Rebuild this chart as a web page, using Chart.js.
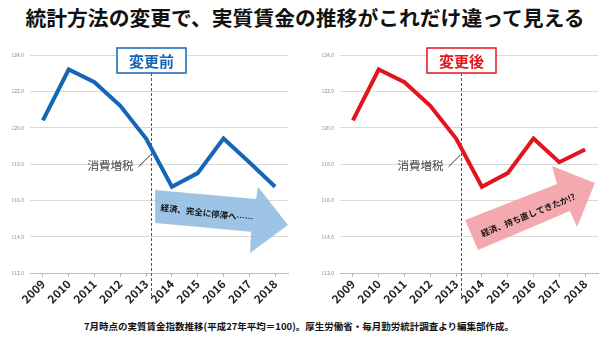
<!DOCTYPE html>
<html>
<head>
<meta charset="utf-8">
<script src="https://cdn.jsdelivr.net/npm/chart.js@4"></script>
<style>
body { margin: 0; width: 610px; height: 340px; background: #fff; position: relative; overflow: hidden; font-family: "Noto Sans CJK JP", sans-serif; }
#title { position: absolute; left: 0; top: 3px; width: 610px; text-align: center; font-size: 20.8px; font-weight: 700; color: #111; line-height: 28px; white-space: nowrap; }
.panel { position: absolute; top: 40px; width: 300px; height: 265px; }
#foot { position: absolute; left: 0; top: 318px; width: 598px; text-align: center; font-size: 9.5px; font-weight: 700; color: #111; line-height: 16px; white-space: nowrap; }
</style>
</head>
<body>
<div id="title">統計方法の変更で、実質賃金の推移がこれだけ違って見える</div>
<div class="panel" style="left:0"><canvas id="before"></canvas></div>
<div class="panel" style="left:310px"><canvas id="after"></canvas></div>
<div id="foot">7月時点の実質賃金指数推移(平成27年平均＝100)。厚生労働省・毎月勤労統計調査より編集部作成。</div>
<script>
// data
const years = ['2009', '2010', '2011', '2012', '2013', '2014', '2015', '2016', '2017', '2018'];
const beforeValues = [120.4, 123.2, 122.5, 121.2, 119.4, 116.75, 117.5, 119.4, 118.1, 116.75];
const afterValues = [120.4, 123.2, 122.5, 121.2, 119.4, 116.75, 117.5, 119.4, 118.1, 118.8];
const yMin = 112, yMax = 124, yStep = 2;
const taxIndex = 4.2; // 消費増税 marker between 2013 and 2014

const font = '"Noto Sans CJK JP", sans-serif';

// annotations: arrow outline + text, in (index, value) coords
const beforeNote = {
    color: '#1565b8',
    label: '変更前',
    arrowFill: 'rgba(140,186,225,0.85)',
    arrow: [[4.35, 116.57], [8.26, 116.07], [8.34, 116.73], [9.5, 114.64], [8.03, 113.1], [8.07, 114.27], [4.35, 114.75]],
    text: '経済、完全に停滞へ……',
    textAt: [6.36, 115.3],
    angle: 7
};
const afterNote = {
    color: '#e2141c',
    label: '変更後',
    arrowFill: 'rgba(242,160,165,0.9)',
    arrow: [[4.35, 114.92], [7.91, 116.9], [7.72, 117.89], [9.38, 116.95], [8.69, 114.53], [8.41, 115.41], [4.85, 113.27]],
    text: '経済、持ち直してきたか!?',
    textAt: [6.79, 115.19],
    angle: -22
};

const notes = {
    id: 'notes',
    beforeDatasetsDraw(chart, args, opts) {
        const { ctx, scales: { x, y } } = chart;
        ctx.save();
        // arrow
        ctx.fillStyle = opts.arrowFill;
        ctx.beginPath();
        opts.arrow.forEach(([i, v], n) => {
            const px = x.getPixelForValue(i), py = y.getPixelForValue(v);
            n ? ctx.lineTo(px, py) : ctx.moveTo(px, py);
        });
        ctx.closePath();
        ctx.fill();
        // arrow text
        ctx.translate(x.getPixelForValue(opts.textAt[0]), y.getPixelForValue(opts.textAt[1]));
        ctx.rotate(opts.angle * Math.PI / 180);
        ctx.fillStyle = '#111';
        ctx.font = 'bold 8.5px ' + font;
        ctx.textAlign = 'center';
        ctx.textBaseline = 'middle';
        ctx.fillText(opts.text, 0, 0);
        ctx.restore();
    },
    afterDatasetsDraw(chart, args, opts) {
        const { ctx, chartArea, scales: { x, y } } = chart;
        const lx = Math.round(x.getPixelForValue(taxIndex)) + 0.5;
        ctx.save();
        // dashed marker
        ctx.strokeStyle = '#555';
        ctx.lineWidth = 1;
        ctx.setLineDash([3, 2]);
        ctx.beginPath();
        ctx.moveTo(lx, chartArea.top + 18);
        ctx.lineTo(lx, chartArea.bottom + 25);
        ctx.stroke();
        ctx.setLineDash([]);
        // 消費増税 label
        const ly = y.getPixelForValue(117.9);
        ctx.fillStyle = '#444';
        ctx.font = '11.5px ' + font;
        ctx.textAlign = 'right';
        ctx.textBaseline = 'middle';
        ctx.fillText('消費増税', lx - 18, ly);
        ctx.strokeStyle = '#333';
        ctx.beginPath();
        ctx.moveTo(lx - 13, ly + 1);
        ctx.lineTo(lx - 1, y.getPixelForValue(118.5));
        ctx.stroke();
        // title box
        const bw = 69, bh = 25, bt = chartArea.top - 7;
        ctx.fillStyle = '#fff';
        ctx.fillRect(lx - bw / 2, bt, bw, bh);
        ctx.strokeStyle = opts.color;
        ctx.lineWidth = 1.5;
        ctx.strokeRect(lx - bw / 2, bt, bw, bh);
        ctx.fillStyle = opts.color;
        ctx.font = 'bold 15px ' + font;
        ctx.textAlign = 'center';
        ctx.fillText(opts.label, lx, bt + bh / 2 + 1);
        ctx.restore();
    }
};

function makeChart(id, values, note) {
    return new Chart(document.getElementById(id), {
        type: 'line',
        data: {
            labels: years,
            datasets: [{
                data: values,
                borderColor: note.color,
                borderWidth: 4,
                pointRadius: 0,
                tension: 0,
                fill: false
            }]
        },
        plugins: [notes],
        options: {
            responsive: true,
            maintainAspectRatio: false,
            animation: false,
            layout: { padding: { top: 15, right: 12, left: 0, bottom: 0 } },
            plugins: {
                legend: { display: false },
                tooltip: { enabled: false },
                notes: note
            },
            scales: {
                x: {
                    offset: true,
                    afterFit: s => { s.height = 32; },
                    grid: { drawOnChartArea: false, color: '#bbb', tickLength: 4 },
                    border: { color: '#bbb' },
                    ticks: {
                        minRotation: 45,
                        maxRotation: 45,
                        padding: 0,
                        color: '#222',
                        font: { family: font, size: 11.5, weight: 'bold' }
                    }
                },
                y: {
                    min: yMin,
                    max: yMax,
                    afterFit: s => { s.width = 30; },
                    grid: { color: '#dadada', drawTicks: false },
                    border: { display: false },
                    ticks: {
                        stepSize: yStep,
                        padding: 6,
                        color: '#888',
                        font: { family: font, size: 5 },
                        callback: v => v.toFixed(1)
                    }
                }
            }
        }
    });
}

makeChart('before', beforeValues, beforeNote);
makeChart('after', afterValues, afterNote);
</script>
</body>
</html>
